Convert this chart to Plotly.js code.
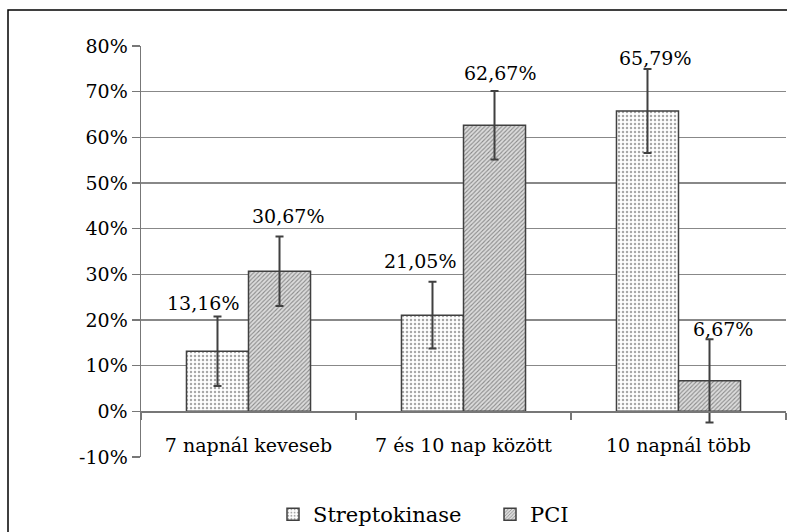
<!DOCTYPE html>
<html><head><meta charset="utf-8">
<script src="https://cdn.plot.ly/plotly-3.0.1.min.js"></script>
<style>html,body{margin:0;padding:0;background:#fff}#chart{width:787px;height:532px}</style>
</head><body><div id="chart"></div>
<script>
const categories = ['7 napnál keveseb', '7 és 10 nap között', '10 napnál több'];
const seriesNames = ['Streptokinase', 'PCI'];
const streptoValues = [13.16, 21.05, 65.79];
const pciValues = [30.67, 62.67, 6.67];
const streptoErrors = [7.6, 7.3, 9.2];
const pciErrors = [7.6, 7.5, 9.1];
const streptoLabels = ['13,16%', '21,05%', '65,79%'];
const pciLabels = ['30,67%', '62,67%', '6,67%'];
const yTickVals = [-10, 0, 10, 20, 30, 40, 50, 60, 70, 80];
const yTickText = ['-10%', '0%', '10%', '20%', '30%', '40%', '50%', '60%', '70%', '80%'];

// style constants (label nudges in pixels)
const FONT = 'DejaVu Serif';
const streptoNudge = [[-15, 14], [-13, 21], [7, 11]];
const pciNudge = [[8, 21], [5, 18], [13, 10]];
const barHalf = 31;

const errStyle = {type: 'data', visible: true, color: '#404040', thickness: 2, width: 4};

const traces = [
  {type: 'bar', name: seriesNames[0], x: categories, y: streptoValues,
   error_y: Object.assign({array: streptoErrors}, errStyle),
   marker: {color: '#ffffff', line: {color: '#404040', width: 1.5},
            pattern: {shape: '.', fgcolor: '#a8a8a8', bgcolor: '#ffffff', size: 4, solidity: 0.3}},
   hoverinfo: 'none'},
  {type: 'bar', name: seriesNames[1], x: categories, y: pciValues,
   error_y: Object.assign({array: pciErrors}, errStyle),
   marker: {color: '#cccccc', line: {color: '#404040', width: 1.5},
            pattern: {shape: '/', fgcolor: '#8a8a8a', bgcolor: '#dcdcdc', size: 3, solidity: 0.35}},
   hoverinfo: 'none'}
];

const annotations = [];
categories.forEach((c, i) => {
  annotations.push({x: c, y: streptoValues[i] + streptoErrors[i], xref: 'x', yref: 'y',
    text: streptoLabels[i], showarrow: false, xanchor: 'center', yanchor: 'middle',
    xshift: -barHalf + streptoNudge[i][0], yshift: streptoNudge[i][1],
    font: {family: FONT, size: 19, color: '#000'}});
  annotations.push({x: c, y: pciValues[i] + pciErrors[i], xref: 'x', yref: 'y',
    text: pciLabels[i], showarrow: false, xanchor: 'center', yanchor: 'middle',
    xshift: barHalf + pciNudge[i][0], yshift: pciNudge[i][1],
    font: {family: FONT, size: 19, color: '#000'}});
});

const layout = {
  width: 787, height: 532,
  margin: {l: 141, r: 1, t: 46, b: 75, autoexpand: false},
  paper_bgcolor: '#ffffff', plot_bgcolor: '#ffffff',
  font: {family: FONT, size: 18, color: '#000'},
  barmode: 'group', bargap: 0.423, bargroupgap: 0,
  showlegend: true,
  legend: {orientation: 'h', x: (273 - 141) / 645, xanchor: 'left', y: -0.14, yanchor: 'middle',
           font: {family: FONT, size: 21, color: '#000'}, itemwidth: 30, entrywidth: 172,
           traceorder: 'normal'},
  xaxis: {type: 'category', anchor: 'free', position: 10/90, automargin: false,
          showline: true, linecolor: '#777', linewidth: 1.5,
          ticks: 'outside', tickson: 'boundaries', ticklen: 7, tickcolor: '#777', tickwidth: 1.5,
          ticklabelstandoff: 16, showgrid: false, zeroline: false,
          tickfont: {family: FONT, size: 19, color: '#000'}},
  yaxis: {range: [-10, 80], tickvals: yTickVals, ticktext: yTickText, automargin: false,
          showline: true, linecolor: '#777', linewidth: 1.5,
          ticks: 'outside', ticklen: 8, tickcolor: '#777', tickwidth: 1.5,
          showgrid: true, gridcolor: '#888', gridwidth: 1.5, zeroline: false,
          tickfont: {family: FONT, size: 19, color: '#000'}},
  annotations: annotations,
  shapes: [{type: 'rect', xref: 'paper', yref: 'paper',
            x0: (8 - 141) / 645, x1: (795 - 141) / 645, y0: (457 - 545) / 411, y1: (457 - 10) / 411,
            line: {color: '#000', width: 1.5}, fillcolor: 'rgba(0,0,0,0)', layer: 'below'}]
};

Plotly.newPlot('chart', traces, layout, {staticPlot: true});
</script></body></html>
